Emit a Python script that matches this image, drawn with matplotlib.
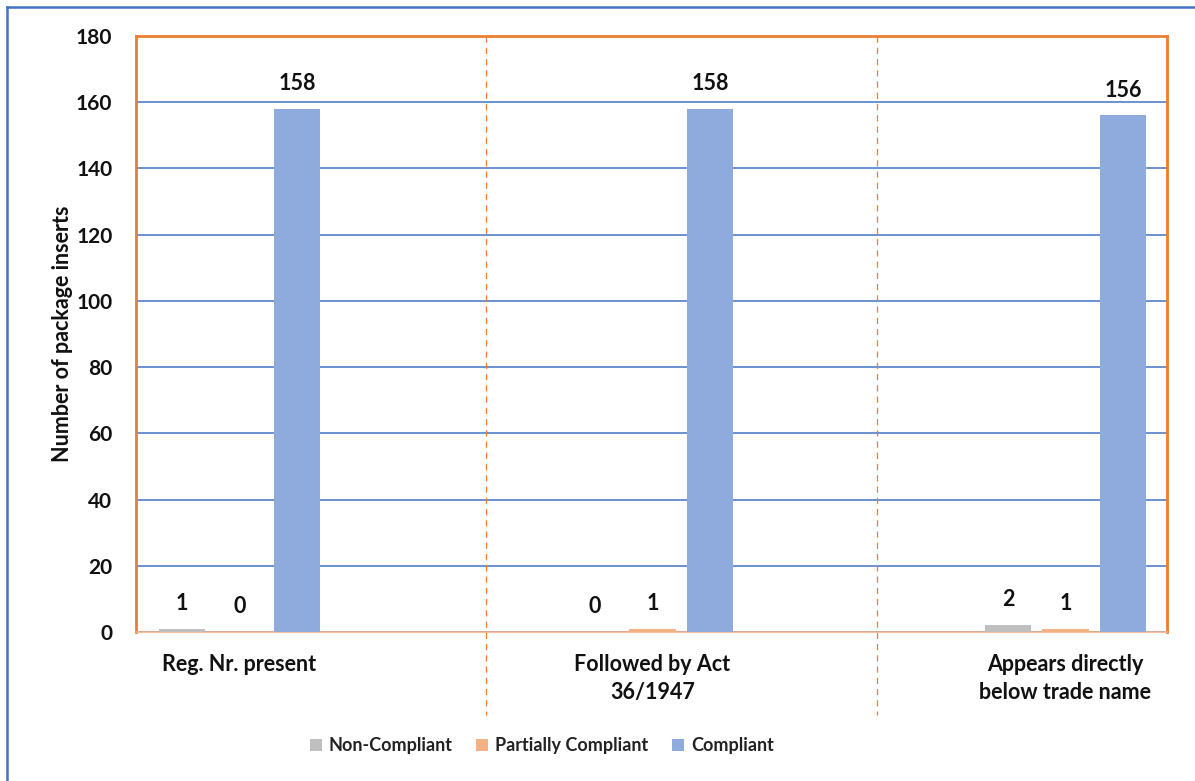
import matplotlib
matplotlib.use("Agg")
import matplotlib.pyplot as plt
from matplotlib.lines import Line2D
from matplotlib.patches import Patch
import numpy as np

categories = ["Reg. Nr. present", "Followed by Act\n36/1947", "Appears directly\nbelow trade name"]
series_names = ["Non-Compliant", "Partially Compliant", "Compliant"]
non_compliant = [1, 0, 2]
partially_compliant = [0, 1, 1]
compliant = [158, 158, 156]
y_ticks = [0, 20, 40, 60, 80, 100, 120, 140, 160, 180]

colors = ["#BFBFBF", "#F4B183", "#8FAADC"]
plt.rcParams['font.family'] = ['Lato', 'DejaVu Sans']

fig = plt.figure(figsize=(11.95, 7.81), dpi=100)
ax = fig.add_axes([136/1195, 1-632/781, (1167-136)/1195, (632-36)/781])

x = np.arange(len(categories))
offsets = [-0.139, 0.0, 0.139]
width = 0.1126
for vals, off, col in zip([non_compliant, partially_compliant, compliant], offsets, colors):
    bars = ax.bar(x + off, vals, width, color=col, zorder=3)
    for b, v in zip(bars, vals):
        ax.text(b.get_x() + b.get_width()/2, v + 4.5, str(v), ha='center', va='bottom',
                fontsize=15.5, fontweight='bold', color='#111111', zorder=4)

ax.set_xlim(-0.2506, 2.2458)
ax.set_ylim(0, 180)
ax.set_yticks(y_ticks)
ax.set_yticklabels([str(t) for t in y_ticks], fontsize=15, fontweight='bold', color='#111111')
ax.set_xticks(x)
ax.set_xticklabels(categories, fontsize=15.5, fontweight='bold', linespacing=1.4, color='#111111')
ax.tick_params(axis='y', length=0, pad=17)
ax.tick_params(axis='x', length=0, pad=16)
ax.yaxis.grid(True, color='#4472C4', linewidth=1.1, zorder=0)
ax.set_axisbelow(True)
ax.set_ylabel("Number of package inserts", fontsize=15.5, fontweight='bold', labelpad=2,
              color='#111111')

for side in ['left', 'top', 'right']:
    ax.spines[side].set_color('#ED7D31')
    ax.spines[side].set_linewidth(2)
ax.spines['bottom'].set_color('#F4B183')
ax.spines['bottom'].set_linewidth(1.2)

for sx in [0.597, 1.5436]:
    ax.plot([sx, sx], [180, -25], linestyle=(0, (5, 4)), color='#ED7D31', linewidth=0.9,
            clip_on=False, zorder=2)

handles = [Patch(facecolor=c, edgecolor='none') for c in colors]
fig.legend(handles, series_names, loc='center', bbox_to_anchor=(542/1195, 1-746/781),
           ncol=3, frameon=False, prop={'weight': 'bold', 'size': 13},
           handlelength=0.65, handleheight=0.65, handletextpad=0.4, columnspacing=1.3,
           labelcolor='#222222')

fig.add_artist(Line2D([7/1195, 7/1195], [0, 1-7/781], color='#4472C4', linewidth=1.8,
                      transform=fig.transFigure))
fig.add_artist(Line2D([7/1195, 1], [1-7/781, 1-7/781], color='#4472C4', linewidth=1.8,
                      transform=fig.transFigure))

fig.savefig("out.png", dpi=100)
